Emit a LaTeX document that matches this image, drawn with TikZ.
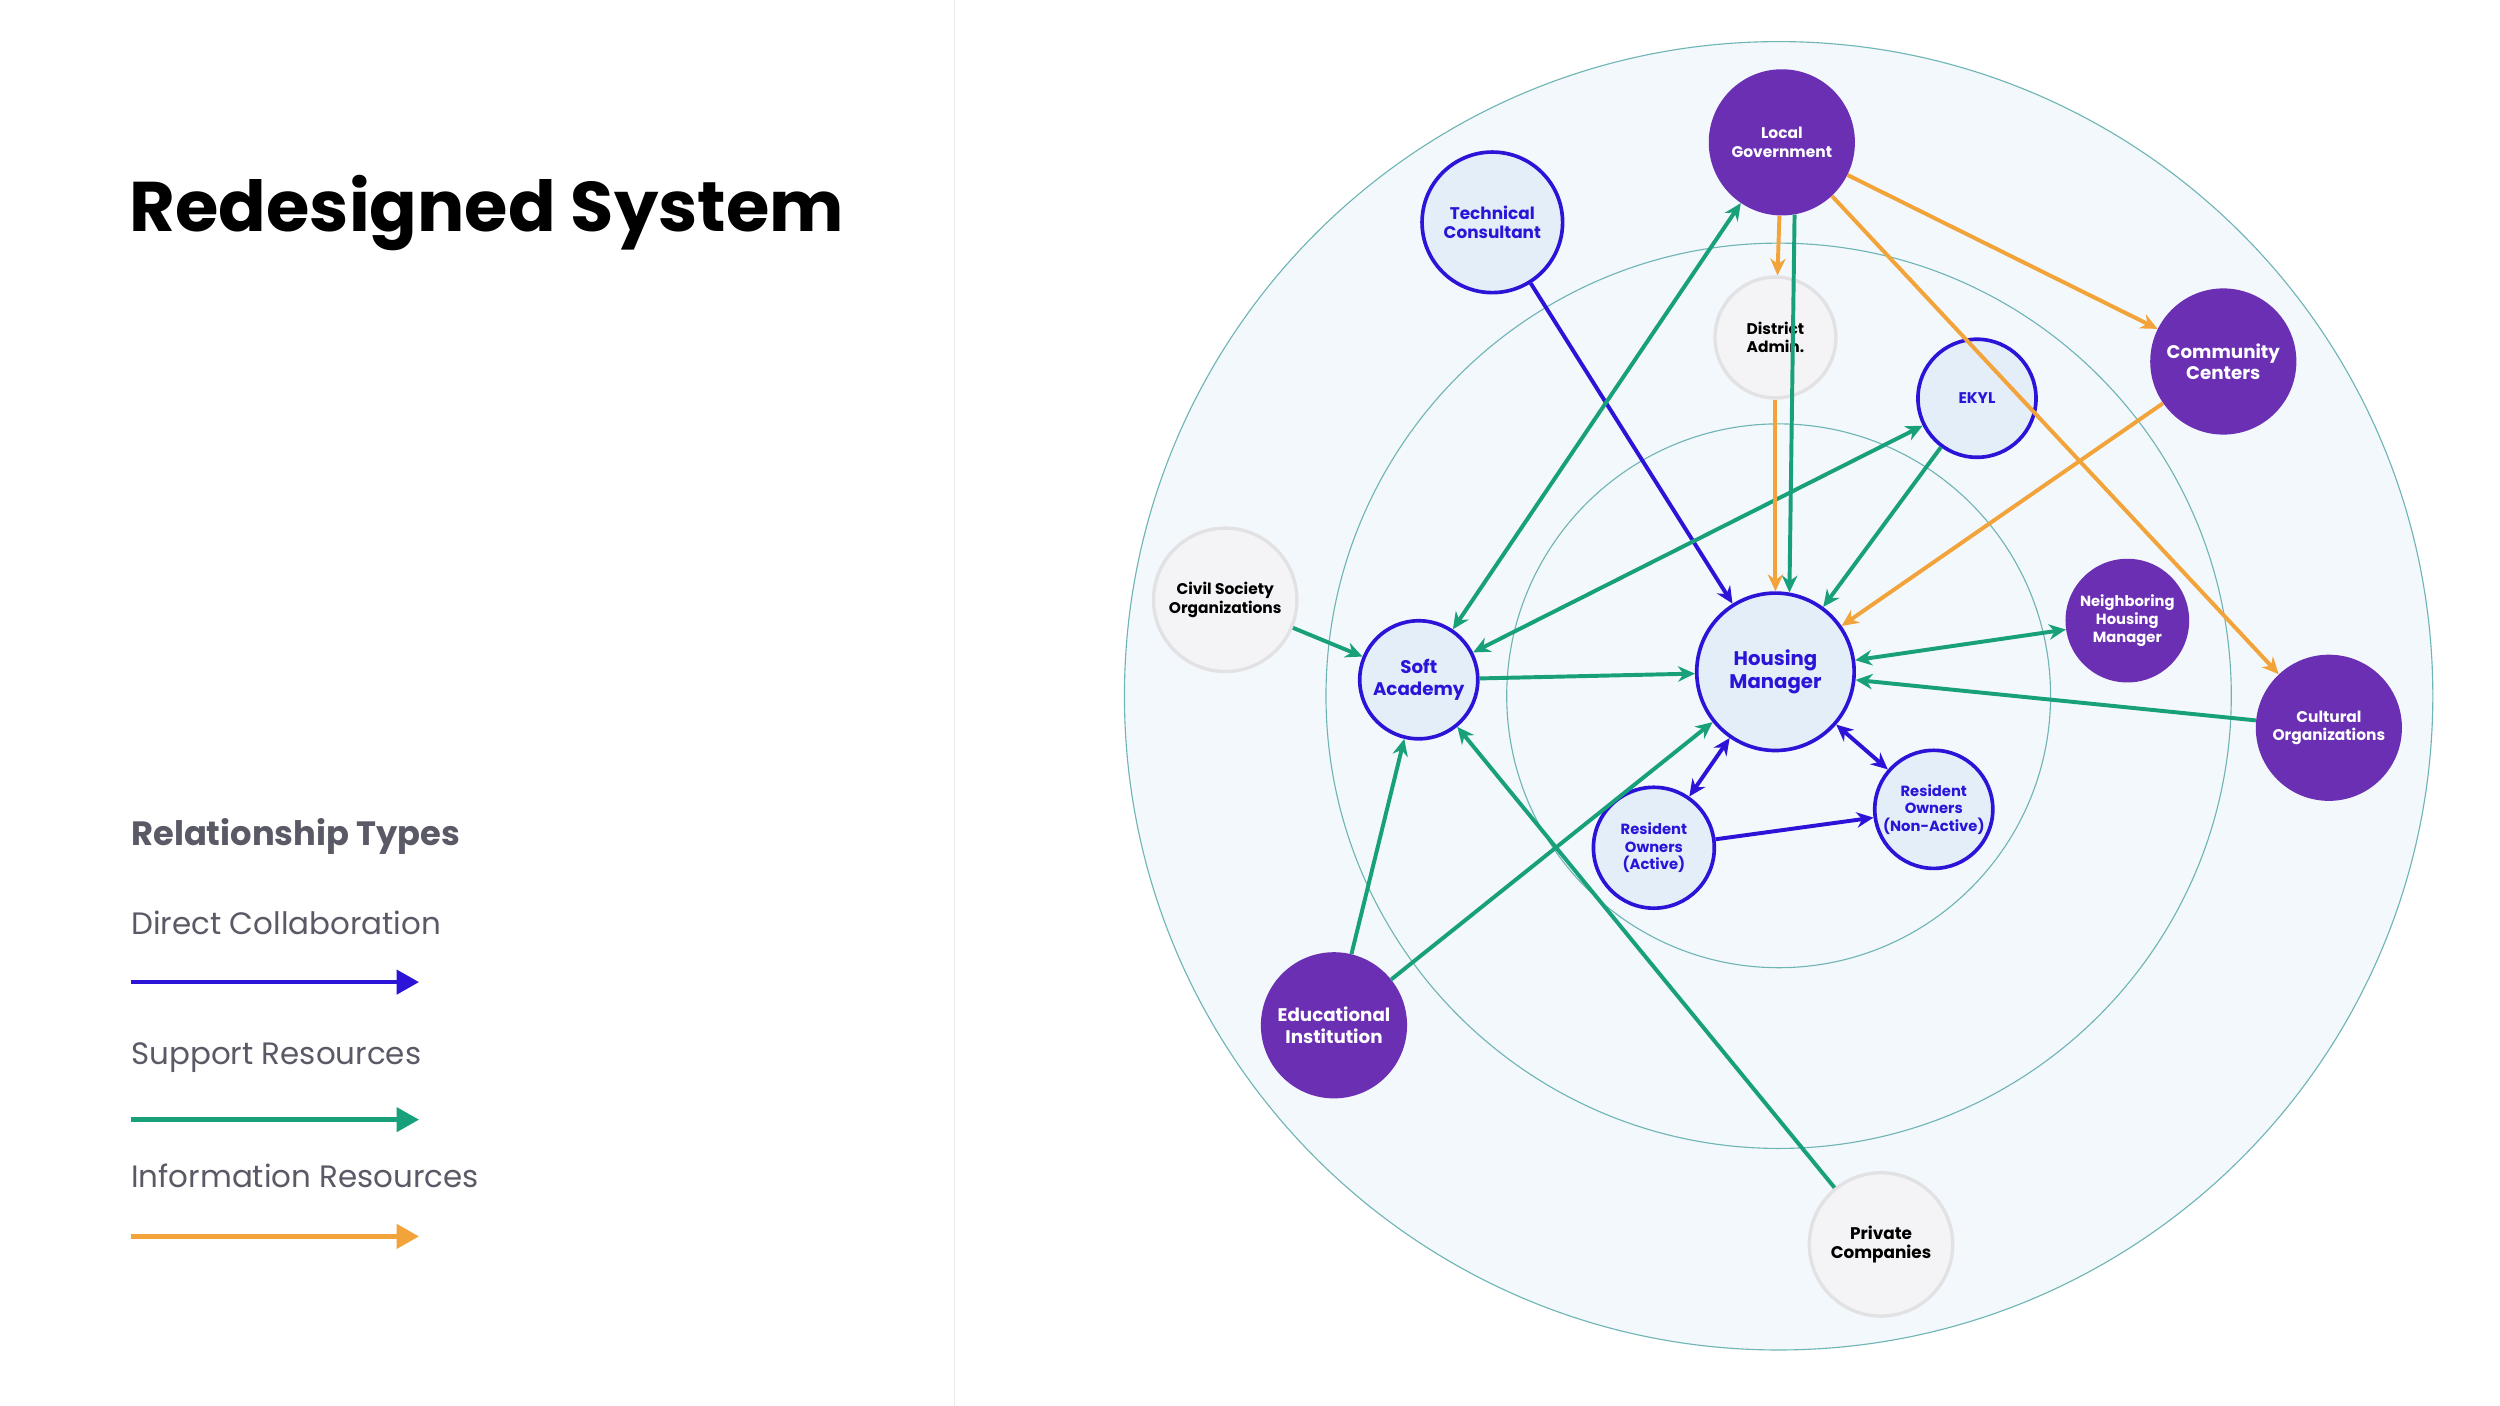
\documentclass[tikz,border=0pt]{standalone}
\usepackage{fontspec}
\setmainfont{Poppins}
\usetikzlibrary{arrows.meta}
\definecolor{cblue}{HTML}{2B14D8}
\definecolor{cgreen}{HTML}{17A07A}
\definecolor{corange}{HTML}{F2A33A}
\definecolor{cpurple}{HTML}{6A2FB2}
\definecolor{cteal}{HTML}{6FB5B5}
\definecolor{cring}{HTML}{F3F8FC}
\definecolor{clight}{HTML}{E3EEF9}
\definecolor{cgrayf}{HTML}{F4F4F6}
\definecolor{cgrayb}{HTML}{E2E2E4}
\definecolor{ctext}{HTML}{5A5A66}
\begin{document}
\begin{tikzpicture}[x=0.04cm,y=-0.04cm,
 base/.style={circle,inner sep=0pt,align=center,font=\fontsize{11}{13}\selectfont\bfseries},
 pur/.style={base,fill=cpurple,text=white},
 blu/.style={base,fill=clight,draw=cblue,line width=2.6pt,text=cblue},
 gry/.style={base,fill=cgrayf,draw=cgrayb,line width=2.4pt,text=black},
 ring/.style={draw=cteal,line width=0.8pt,fill=cring},
 ab/.style={draw=cblue,line width=2.8pt,-{Stealth[length=12pt,width=11pt]}},
 ag/.style={draw=cgreen,line width=2.8pt,-{Stealth[length=12pt,width=11pt]}},
 ao/.style={draw=corange,line width=2.8pt,-{Stealth[length=12pt,width=11pt]}},
 lg/.style={line width=3.4pt,-{Triangle[length=16pt,width=17pt]}}]
\useasboundingbox (0,0) rectangle (1563,879);
\fill[white] (0,0) rectangle (1563,879);
\draw[gray!15,line width=0.8pt] (597,0) -- (597,879);
% rings
\draw[ring] (1112,435) circle (409);
\draw[ring] (1112,435) circle (283);
\draw[ring] (1112,435) circle (170);
% title and legend
\node[anchor=west,font=\fontsize{50}{56}\selectfont\bfseries] (title) at (78,133) {Redesigned System};
\node[anchor=west,font=\fontsize{24}{28}\selectfont\bfseries,text=ctext] (rt) at (79,523) {Relationship Types};
\node[anchor=west,font=\fontsize{22}{26}\selectfont,text=ctext] (l1) at (79,577) {Direct Collaboration};
\node[anchor=west,font=\fontsize{22}{26}\selectfont,text=ctext] (l2) at (79,661) {Support Resources};
\node[anchor=west,font=\fontsize{22}{26}\selectfont,text=ctext] (l3) at (79,735) {Information Resources};
\coordinate (a1) at (82,614); \coordinate (b1) at (262,614);
\coordinate (a2) at (82,700); \coordinate (b2) at (262,700);
\coordinate (a3) at (82,773); \coordinate (b3) at (262,773);
\draw[lg,cblue] (a1) -- (b1);
\draw[lg,cgreen] (a2) -- (b2);
\draw[lg,corange] (a3) -- (b3);
% nodes
\node[pur,minimum size=104] (LG) at (1114,89) {Local\\Government};
\node[blu,minimum size=100,font=\fontsize{12}{14}\selectfont\bfseries] (TC) at (933,139) {Technical\\Consultant};
\node[gry,minimum size=86] (DA) at (1110,211) {District\\Admin.};
\node[blu,minimum size=84] (EK) at (1236,249) {EKYL};
\node[pur,minimum size=104,font=\fontsize{13}{15}\selectfont\bfseries] (CC) at (1390,226) {Community\\Centers};
\node[gry,minimum size=102] (CS) at (766,375) {Civil Society\\Organizations};
\node[blu,minimum size=84,font=\fontsize{13}{15}\selectfont\bfseries] (SA) at (887,425) {Soft\\Academy};
\node[blu,minimum size=112,font=\fontsize{14}{16}\selectfont\bfseries] (HM) at (1110,420) {Housing\\Manager};
\node[pur,minimum size=88,font=\fontsize{10.5}{12.5}\selectfont\bfseries] (NH) at (1330,388) {Neighboring\\Housing\\Manager};
\node[pur,minimum size=104] (CO) at (1456,455) {Cultural\\Organizations};
\node[blu,minimum size=86,font=\fontsize{10.5}{12.5}\selectfont\bfseries] (RA) at (1034,530) {Resident\\Owners\\(Active)};
\node[blu,minimum size=84,font=\fontsize{10.5}{12.5}\selectfont\bfseries] (RN) at (1209,506) {Resident\\Owners\\(Non-Active)};
\node[pur,minimum size=104,font=\fontsize{13}{15}\selectfont\bfseries] (ED) at (834,641) {Educational\\Institution};
\node[gry,minimum size=102,font=\fontsize{12}{14}\selectfont\bfseries] (PC) at (1176,778) {Private\\Companies};
% blue
\draw[ab] (TC) -- (HM);
\draw[ab,{Stealth[length=12pt,width=11pt]}-{Stealth[length=12pt,width=11pt]}] (RA) -- (HM);
\draw[ab,{Stealth[length=12pt,width=11pt]}-{Stealth[length=12pt,width=11pt]}] (HM) -- (RN);
\draw[ab] (RA) -- (RN);
% green
\draw[ag,{Stealth[length=12pt,width=11pt]}-{Stealth[length=12pt,width=11pt]}] (SA) -- (LG);
\draw[ag] (LG.-80) -- (HM.80);
\draw[ag,{Stealth[length=12pt,width=11pt]}-{Stealth[length=12pt,width=11pt]}] (SA) -- (EK);
\draw[ag] (EK) -- (HM);
\draw[ag] (SA) -- (HM);
\draw[ag] (CS) -- (SA);
\draw[ag,{Stealth[length=12pt,width=11pt]}-{Stealth[length=12pt,width=11pt]}] (HM) -- (NH);
\draw[ag] (CO) -- (HM);
\draw[ag] (ED) -- (SA);
\draw[ag] (ED) -- (HM);
\draw[ag] (PC) -- (SA);
% orange
\draw[ao] (LG) -- (DA);
\draw[ao] (DA) -- (HM);
\draw[ao] (LG) -- (CC);
\draw[ao] (LG) -- (CO);
\draw[ao] (CC) -- (HM);
\end{tikzpicture}
\end{document}
